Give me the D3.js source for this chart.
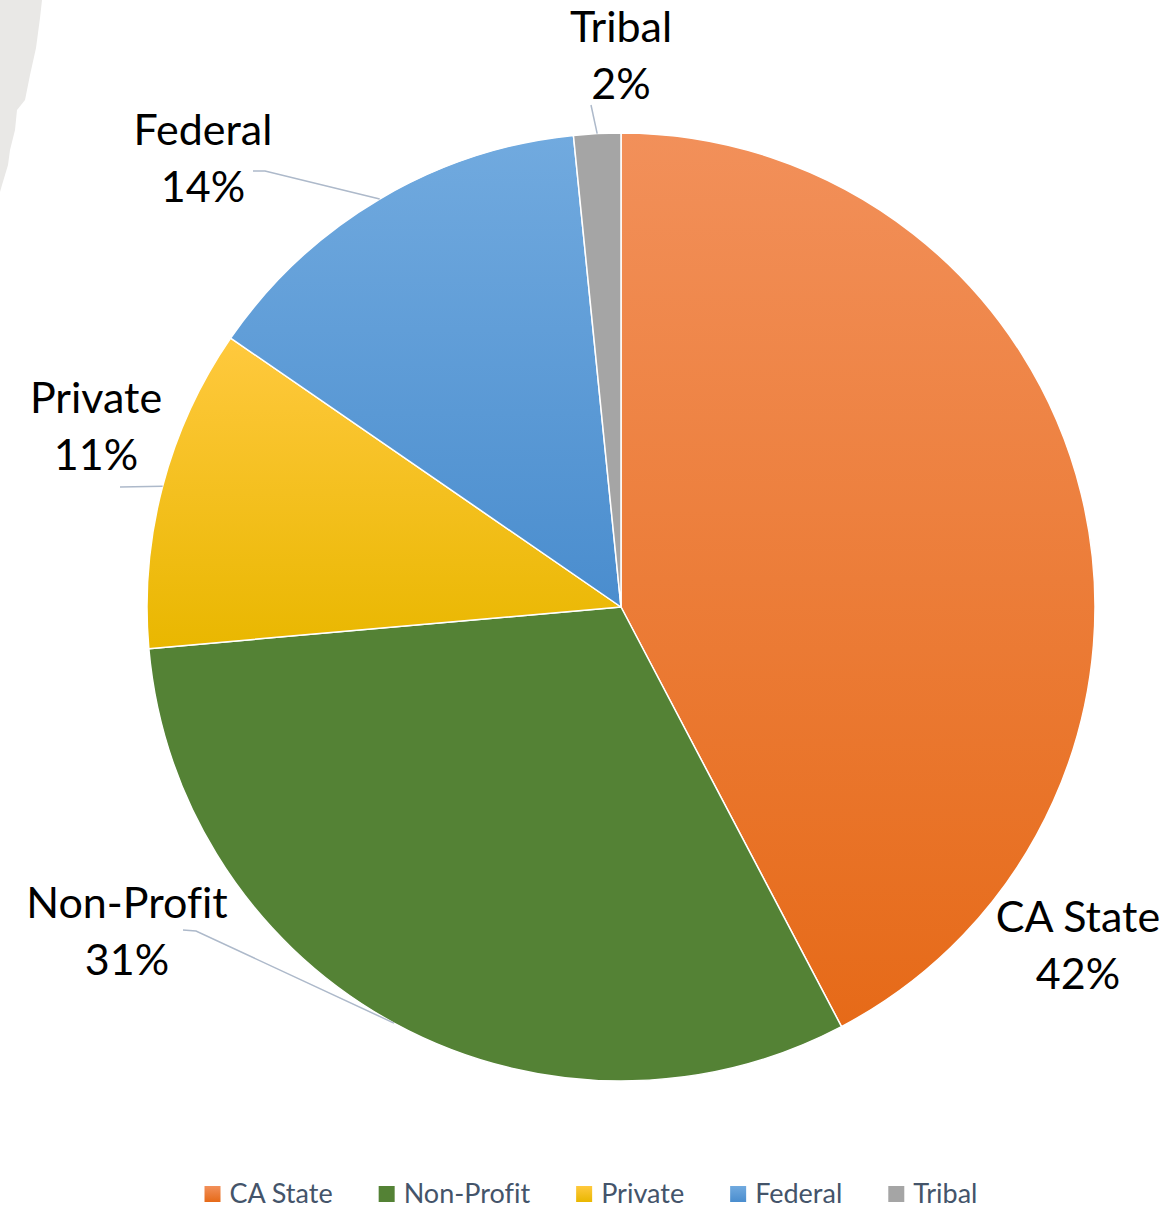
<!DOCTYPE html>
<html>
<head>
<meta charset="utf-8">
<script src="https://cdn.jsdelivr.net/npm/d3@7"></script>
<style>
  body { margin: 0; background: #fff; }
  svg { display: block; }
  text { font-variant-ligatures: none; }
</style>
</head>
<body>
<script>
// Data
const categories = ["CA State", "Non-Profit", "Private", "Federal", "Tribal"];
const shares = [42.3, 31.3, 11.0, 13.8, 1.6];

const colorTop = ["#F2905A", "#548235", "#FFC93E", "#71AADF", "#A5A5A5"];
const colorBottom = ["#E66A18", "#548235", "#E9B700", "#4A8DCE", "#A5A5A5"];

// Label boxes (center x, first baseline) and leader-line start points
const labelPos = [
    {x: 1078, y: 932, lead: null},
    {x: 127, y: 918, lead: [[183, 930], [196, 931]]},
    {x: 96, y: 413, lead: [[120, 487]]},
    {x: 203, y: 145, lead: [[253, 171], [265, 171]]},
    {x: 621, y: 42, lead: [[591, 105]]}
];

const canvasWidth = 1176;
const canvasHeight = 1208;
const cx = 621, cy = 607, radius = 474;
const fontFam = "Lato, 'Open Sans', sans-serif";

const svg = d3.select('body')
    .append('svg')
    .attr('width', canvasWidth)
    .attr('height', canvasHeight);

// gray shape at the top-left corner of the screenshot
svg.append('path')
    .attr('d', 'M0,0 L42,0 L40,18 L36,48 L30,75 L25,100 L17,110 L15,130 L10,150 L8,165 L2,185 L0,192 Z')
    .attr('fill', '#E9E8E6');

const defs = svg.append('defs');
categories.forEach((c, i) => {
    let g = defs.append('linearGradient')
        .attr('id', 'grad' + i)
        .attr('x1', 0).attr('y1', 0).attr('x2', 0).attr('y2', 1);
    g.append('stop').attr('offset', '0%').attr('stop-color', colorTop[i]);
    g.append('stop').attr('offset', '100%').attr('stop-color', colorBottom[i]);
});

const pie = d3.pie().sort(null).value(d => d)(shares);
const arc = d3.arc().innerRadius(0).outerRadius(radius);

let plotGroup = svg.append('g')
    .attr('transform', `translate(${cx},${cy})`);

plotGroup.selectAll('path.slice')
    .data(pie)
    .enter().append('path')
    .attr('class', 'slice')
    .attr('d', arc)
    .attr('fill', (d, i) => `url(#grad${i})`)
    .attr('stroke', '#fff')
    .attr('stroke-width', 1.5)
    .attr('stroke-linejoin', 'round');

const total = d3.sum(shares);

// leader lines end at the middle of each slice's outer edge
pie.forEach((d, i) => {
    let lp = labelPos[i];
    if (!lp.lead) return;
    let mid = (d.startAngle + d.endAngle) / 2;
    let end = [cx + radius * Math.sin(mid), cy - radius * Math.cos(mid)];
    let pts = lp.lead.concat([end]);
    svg.append('path')
        .attr('d', d3.line()(pts))
        .attr('fill', 'none')
        .attr('stroke', '#ADB9CA')
        .attr('stroke-width', 1.5);
});

// data labels
pie.forEach((d, i) => {
    let lp = labelPos[i];
    let t = svg.append('text')
        .attr('text-anchor', 'middle')
        .attr('font-family', fontFam)
        .attr('font-size', 43)
        .attr('fill', '#000');
    t.append('tspan').attr('x', lp.x).attr('y', lp.y).text(categories[i]);
    t.append('tspan').attr('x', lp.x).attr('y', lp.y + 57)
        .text(Math.round(d.value / total * 100) + '%');
});

// legend
let legend = svg.append('g');
let xPos = 0;
const gap = 46;
categories.forEach((c, i) => {
    let item = legend.append('g').attr('transform', `translate(${xPos},0)`);
    item.append('rect')
        .attr('x', 0).attr('y', -17)
        .attr('width', 16).attr('height', 16)
        .attr('fill', `url(#grad${i})`);
    let txt = item.append('text')
        .attr('x', 25).attr('y', 0)
        .attr('font-family', fontFam)
        .attr('font-size', 27)
        .attr('fill', '#44546A')
        .text(c);
    xPos += 25 + txt.node().getComputedTextLength() + gap;
});
let legendWidth = xPos - gap;
legend.attr('transform', `translate(${(canvasWidth - legendWidth) / 2 + 3},1203)`);
</script>
</body>
</html>
